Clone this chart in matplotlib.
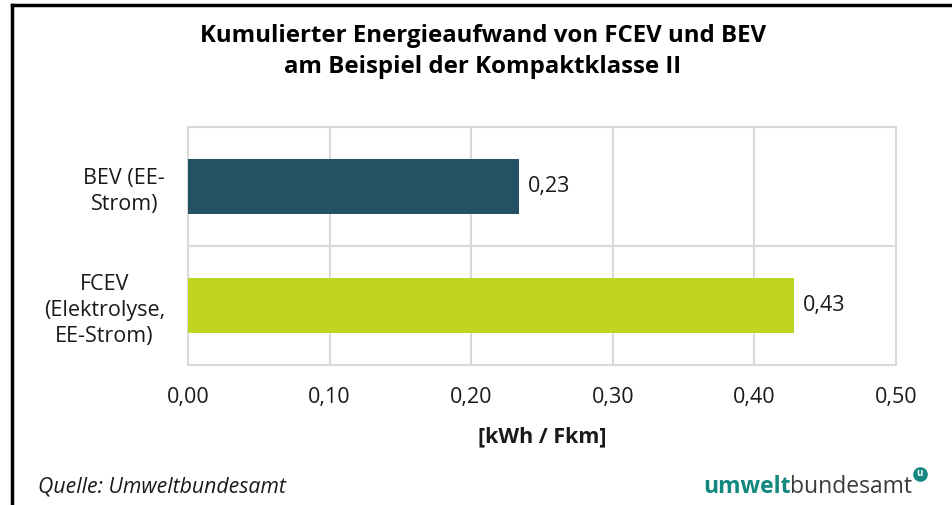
import matplotlib.pyplot as plt
from matplotlib.ticker import FuncFormatter

plt.rcParams['font.family'] = ['Open Sans', 'DejaVu Sans']

categories = ['FCEV\n(Elektrolyse,\nEE-Strom)', 'BEV (EE-\nStrom)']
values = [0.428, 0.234]
labels = ['0,43', '0,23']
colors = ['#bfd520', '#245163']
xticks = [0.0, 0.1, 0.2, 0.3, 0.4, 0.5]

W, H = 952, 505
fig = plt.figure(figsize=(W / 100, H / 100), dpi=100)
ax = fig.add_axes([188 / W, 1 - 365 / H, (896 - 188) / W, (365 - 127) / H])

fs = 15.5
ypos = range(len(categories))
ax.barh(ypos, values, height=0.46, color=colors, zorder=3)
for y, v, t in zip(ypos, values, labels):
    ax.text(v + 0.006, y, t, va='center', ha='left', fontsize=fs, color='#1a1a1a')

ax.set_xlim(0, 0.5)
ax.set_ylim(-0.5, 1.5)
ax.set_xticks(xticks)
ax.xaxis.set_major_formatter(FuncFormatter(lambda v, p: f'{v:.2f}'.replace('.', ',')))
ax.set_yticks(list(ypos))
ax.set_yticklabels(categories, fontsize=fs, ha='right', multialignment='center',
                   color='#1a1a1a', linespacing=1.3)
ax.tick_params(axis='y', length=0, pad=16.5)
ax.tick_params(axis='x', length=0, pad=16, labelsize=fs, labelcolor='#1a1a1a')
ax.set_yticks([0.5], minor=True)
ax.tick_params(axis='y', which='minor', length=0)
ax.grid(axis='x', color='#d9d9d9', lw=1.5, zorder=0)
ax.grid(axis='y', which='minor', color='#d9d9d9', lw=1.5, zorder=0)
for s in ax.spines.values():
    s.set_color('#d9d9d9')
    s.set_linewidth(1.5)

ax.set_xlabel('[kWh / Fkm]', fontsize=fs, fontweight='bold', labelpad=13, color='#1a1a1a')

fig.text(0.507, 1 - 36 / H, 'Kumulierter Energieaufwand von FCEV und BEV',
         ha='center', va='center', fontsize=17.3, fontweight='bold')
fig.text(0.507, 1 - 67 / H, 'am Beispiel der Kompaktklasse II',
         ha='center', va='center', fontsize=17.3, fontweight='bold')

fig.text(38 / W, 1 - 487 / H, 'Quelle: Umweltbundesamt', ha='left', va='center',
         fontsize=15.3, style='italic', color='#1a1a1a')

# logo
t1 = fig.text(703 / W, 1 - 487 / H, 'umwelt', ha='left', va='center',
              fontsize=16.5, fontweight='bold', color='#12887f')
fig.canvas.draw()
bb = t1.get_window_extent()
t2 = fig.text(bb.x1 / W, 1 - 487 / H, 'bundesamt', ha='left', va='center',
              fontsize=16.5, color='#3c3c3c')
fig.canvas.draw()
bb2 = t2.get_window_extent()
cx, cy = (bb2.x1 + 7) / W, 1 - 474 / H
fig.add_artist(plt.Line2D([cx], [cy], marker='o', markersize=9.5, color='#12887f',
                          lw=0, transform=fig.transFigure))
fig.text(cx, cy, 'u', ha='center', va='center', fontsize=7,
         fontweight='bold', color='white')

# frame lines
fig.add_artist(plt.Line2D([12 / W, 12 / W], [0, 1 - 5 / H], color='black', lw=2.5,
                          transform=fig.transFigure))
fig.add_artist(plt.Line2D([12 / W, 1], [1 - 5 / H, 1 - 5 / H], color='black', lw=2.5,
                          transform=fig.transFigure))

fig.savefig('out.png', dpi=100)
